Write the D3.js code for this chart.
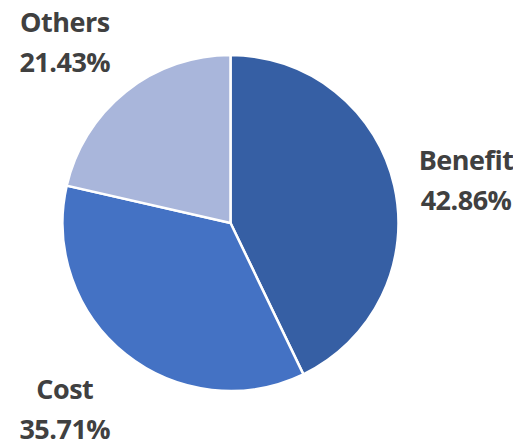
<!DOCTYPE html>
<html>
<head>
<meta charset="utf-8">
<script src="https://cdn.jsdelivr.net/npm/d3@7"></script>
<style>
  html, body { margin: 0; padding: 0; background: #ffffff; }
  svg { display: block; }
  .lbl { font-family: "Open Sans", Lato, sans-serif; font-weight: 700; font-size: 27px; letter-spacing: -0.5px; fill: #404040; }
</style>
</head>
<body>
<svg id="chart" width="513" height="441"></svg>
<script>
// Share of each category (out of 14 responses)
const categories = ["Benefit", "Cost", "Others"];
const counts = [6, 5, 3];
const colors = ["#365fa4", "#4472c4", "#a9b6db"];

const width = 513, height = 441;
const cx = 230.5, cy = 223, radius = 168;

const svg = d3.select("#chart");
const g = svg.append("g").attr("transform", `translate(${cx},${cy})`);

const total = d3.sum(counts);
const data = categories.map((c, i) => ({ name: c, value: counts[i], color: colors[i] }));

const pie = d3.pie().value(d => d.value).sort(null).startAngle(0).endAngle(2 * Math.PI);
const arc = d3.arc().innerRadius(0).outerRadius(radius);
const arcs = pie(data);

g.selectAll("path.slice")
  .data(arcs)
  .join("path")
  .attr("class", "slice")
  .attr("d", arc)
  .attr("fill", d => d.data.color)
  .attr("stroke", "#ffffff")
  .attr("stroke-width", 2.5)
  .attr("stroke-linejoin", "miter");

// Outside-end labels: name on the first line, percentage underneath
const pct = d3.format(".2%");
const labelGap = 25;

arcs.forEach(a => {
  const mid = (a.startAngle + a.endAngle) / 2;
  const sx = Math.sin(mid), sy = -Math.cos(mid);
  const px = cx + sx * (radius + labelGap);
  const py = cy + sy * (radius + labelGap);

  const grp = svg.append("g");
  const t1 = grp.append("text").attr("class", "lbl").text(a.data.name);
  const t2 = grp.append("text").attr("class", "lbl").text(pct(a.data.value / total));
  const w = Math.max(t1.node().getComputedTextLength(), t2.node().getComputedTextLength());

  // horizontal: block sits beside the anchor point on the outer side
  const blockCenterX = sx >= 0 ? px + w / 2 : px - w / 2;
  // vertical: near-horizontal labels are centred, steeper ones pushed away
  const k = Math.min(1, Math.max(0, (Math.abs(sy) - 0.25) / 0.5));
  const blockCenterY = py + (sy > 0 ? 35 : -30) * k;

  t1.attr("x", blockCenterX).attr("y", blockCenterY - 10).attr("text-anchor", "middle");
  t2.attr("x", blockCenterX).attr("y", blockCenterY + 30).attr("text-anchor", "middle");
});
</script>
</body>
</html>
